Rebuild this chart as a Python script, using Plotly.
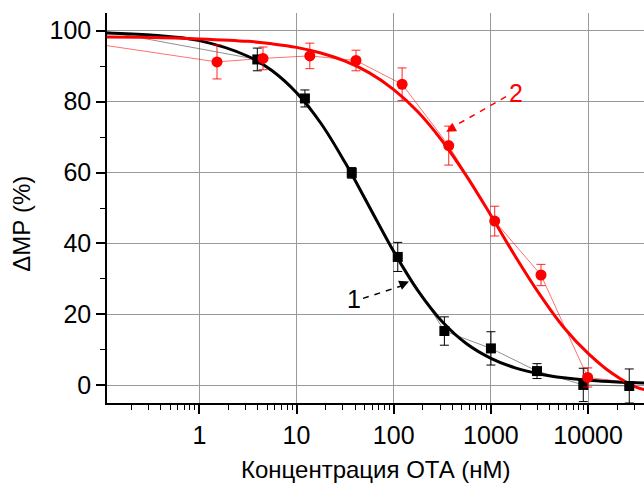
import plotly.graph_objects as go

# ---------------- data ----------------
# series 1 (black squares)
conc1 = [3.95, 12.2, 37, 110, 332, 1000, 2980, 8920, 26500]
mp1 = [91.9, 80.9, 59.9, 36.2, 15.3, 10.4, 4.0, 0.1, -0.2]
err1 = [3.2, 2.4, 1.5, 4.1, 4.0, 4.7, 2.1, 4.7, 4.8]
# connecting line incl. off-scale end points
line1_x = [0.1, 3.95, 12.2, 37, 110, 332, 1000, 2980, 8920, 26500]
line1_y = [100, 91.9, 80.9, 59.9, 36.2, 15.3, 10.4, 4.0, 0.1, -0.2]

# series 2 (red circles)
conc2 = [1.52, 4.52, 13.7, 40.9, 122, 368, 1094, 3275, 9900]
mp2 = [91.2, 92.2, 92.9, 91.6, 84.9, 67.6, 46.3, 31.1, 2.2]
err2 = [4.8, 3.2, 3.6, 2.9, 4.6, 5.5, 4.2, 3.0, 2.7]
line2_x = [0.1, 1.52, 4.52, 13.7, 40.9, 122, 368, 1094, 3275, 9900, 27000, 40000]
line2_y = [96.0, 91.2, 92.2, 92.9, 91.6, 84.9, 67.6, 46.3, 31.1, 2.2, 0.8, 0.4]

# fitted curves
fit_x = [0.1, 0.316, 1, 3.16, 5.62, 10, 17.8, 31.6, 56.2, 100, 178, 316, 562,
         1000, 1778, 3162, 5623, 10000, 17783, 31623, 40000]
fit1_y = [99.4, 98.8, 97.2, 92.8, 88.7, 82.5, 73.9, 62.8, 50.3, 37.7, 26.6, 17.9, 11.7,
          7.6, 4.9, 3.2, 2.1, 1.4, 1.0, 0.7, 0.6]
fit2_y = [98.2, 98.1, 97.7, 97.0, 96.3, 95.3, 93.7, 91.4, 88.1, 83.4, 77.1, 68.9, 59.0,
          47.9, 36.4, 25.7, 16.3, 9.0, 3.3, -0.6, -1.3]

x_ticks = [1, 10, 100, 1000, 10000]
x_ticktext = ["1", "10", "100", "1000", "10000"]
y_ticks = [0, 20, 40, 60, 80, 100]

# label pointers (data coords)
lab1_dash_x = [48.3, 136]
lab1_dash_y = [24.5, 28.5]
lab2_dash_x = [1430, 398]
lab2_dash_y = [81.4, 72.7]

FONT = "Arial, 'Liberation Sans', sans-serif"
RED = "#ff0000"

fig = go.Figure()

fig.add_trace(go.Scatter(x=line1_x, y=line1_y, mode="lines",
                         line=dict(color="#444444", width=0.6), hoverinfo="skip"))
fig.add_trace(go.Scatter(x=line2_x, y=line2_y, mode="lines",
                         line=dict(color="rgba(255,0,0,0.7)", width=0.8), hoverinfo="skip"))

fig.add_trace(go.Scatter(x=fit_x, y=fit1_y, mode="lines", line_shape="spline",
                         line=dict(color="black", width=3)))
fig.add_trace(go.Scatter(x=fit_x, y=fit2_y, mode="lines", line_shape="spline",
                         line=dict(color=RED, width=3)))

fig.add_trace(go.Scatter(x=conc1, y=mp1, mode="markers",
                         marker=dict(symbol="square", size=10, color="black"),
                         error_y=dict(type="data", array=err1, color="black",
                                      thickness=1, width=4.5)))
fig.add_trace(go.Scatter(x=conc2, y=mp2, mode="markers",
                         marker=dict(symbol="circle", size=11, color=RED),
                         error_y=dict(type="data", array=err2, color="rgba(255,0,0,0.85)",
                                      thickness=1, width=4.5)))

# dashed pointer lines
fig.add_trace(go.Scatter(x=lab1_dash_x, y=lab1_dash_y, mode="lines",
                         line=dict(color="black", width=1.5, dash="6px,6px")))
fig.add_trace(go.Scatter(x=lab2_dash_x, y=lab2_dash_y, mode="lines",
                         line=dict(color=RED, width=1.5, dash="6px,6px")))

minor_vals = []
for dec in [0.1, 1, 10, 100, 1000, 10000]:
    for m in range(2, 10):
        minor_vals.append(m * dec)

fig.update_xaxes(type="log", range=[-0.95, 4.575],
                 tickvals=x_ticks, ticktext=x_ticktext,
                 ticks="outside", ticklen=9, tickwidth=1.5, tickcolor="black",
                 showline=True, linecolor="black", linewidth=1.5,
                 showgrid=True, gridcolor="#999999", gridwidth=1,
                 zeroline=False,
                 tickfont=dict(family=FONT, size=25, color="black"),
                 minor=dict(tickvals=minor_vals, ticks="outside", ticklen=5,
                            tickwidth=1.2, tickcolor="black", showgrid=False))
fig.update_yaxes(range=[-5, 105], tickvals=y_ticks,
                 ticks="outside", ticklen=9, tickwidth=1.5, tickcolor="black",
                 showline=True, linecolor="black", linewidth=1.5,
                 showgrid=True, gridcolor="#999999", gridwidth=1,
                 zeroline=False,
                 tickfont=dict(family=FONT, size=25, color="black"),
                 minor=dict(dtick=10, tick0=0, ticks="outside", ticklen=5,
                            tickwidth=1.2, tickcolor="black", showgrid=False))

fig.update_layout(
    width=644, height=484,
    margin=dict(l=107, r=0, t=13, b=81),
    plot_bgcolor="white", paper_bgcolor="white",
    showlegend=False,
    annotations=[
        dict(text="Концентрация ОТА (нМ)", xref="paper", yref="paper",
             x=0.5, y=-0.170, xanchor="center", yanchor="middle", showarrow=False,
             font=dict(family=FONT, size=24, color="black")),
        dict(text="ΔМР (%)", xref="paper", yref="paper", textangle=-90,
             x=-0.1583, y=0.4597, xanchor="center", yanchor="middle", showarrow=False,
             font=dict(family=FONT, size=24, color="black")),
        dict(text="1", x=1.59, y=24.3, xref="x", yref="y", showarrow=False,
             xanchor="center", yanchor="middle",
             font=dict(family=FONT, size=25, color="black")),
        dict(text="2", x=3.259, y=82.5, xref="x", yref="y", showarrow=False,
             xanchor="center", yanchor="middle",
             font=dict(family=FONT, size=25, color=RED)),
        dict(text="", x=2.157, y=29.3, xref="x", yref="y", showarrow=True,
             arrowhead=2, arrowsize=1.3, arrowwidth=1.5, arrowcolor="black",
             ax=-7, ay=3, standoff=0),
        dict(text="", x=2.54, y=71.5, xref="x", yref="y", showarrow=True,
             arrowhead=2, arrowsize=1.3, arrowwidth=1.5, arrowcolor=RED,
             ax=7, ay=-4, standoff=0),
    ],
)

fig.write_html("out.html")
